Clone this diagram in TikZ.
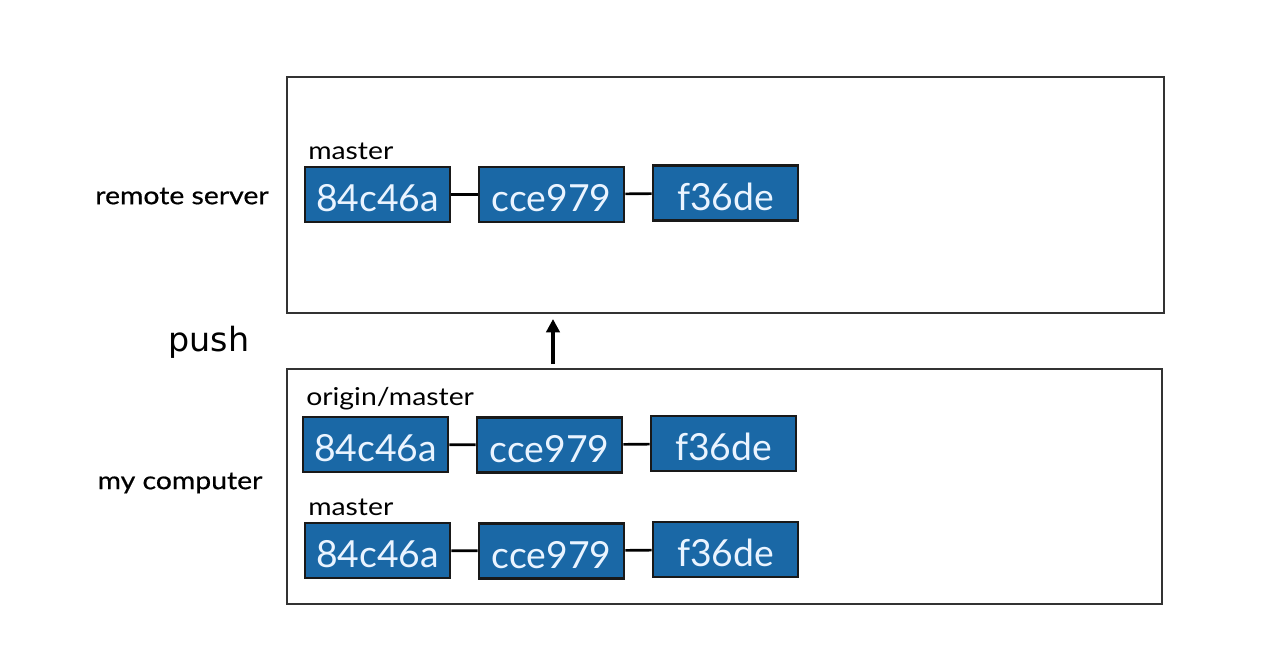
\documentclass[tikz,border=0pt]{standalone}
\usepackage{fontspec}
\setmainfont{Lato}
\newfontfamily\labelfont[FakeStretch=1.15,FakeBold=0.6]{Lato}
\newfontfamily\branchfont[FakeStretch=1.15]{Lato}
\newfontfamily\pushfont{DejaVu Sans}
\usetikzlibrary{arrows.meta}
\definecolor{commitblue}{HTML}{1A68A6}
\definecolor{committext}{HTML}{EAF4FF}
\begin{document}
\begin{tikzpicture}[x=0.75pt,y=-0.75pt,
  area/.style={draw=black!80,line width=1.3pt},
  commit/.style={draw=black!90,line width=2pt,fill=commitblue,text=committext,
    minimum width=108.75pt,minimum height=41.25pt,inner sep=0pt,
    text height=25.5pt,text depth=0pt,
    font=\fontsize{28}{28}\selectfont},
  link/.style={black,line width=2pt},
  branch/.style={anchor=west,inner sep=0pt,font=\branchfont\fontsize{18.5}{19}\selectfont},
  side/.style={inner sep=0pt,font=\labelfont\fontsize{18.5}{19}\selectfont},
  pushlbl/.style={inner sep=0pt,font=\pushfont\fontsize{25}{26}\selectfont}]
  \useasboundingbox (0,0) rectangle (1267,668);

  % server and local areas
  \draw[area] (287,77) rectangle (1164,313);
  \draw[area] (287,369) rectangle (1162,604);
  \node[side] (srv) at (182,196) {remote server};
  \node[side] (pc) at (180,483) {my computer};

  % remote master
  \node[branch] (rm) at (308,151) {master};
  \node[commit] (r1) at (377.5,194.5) {84c46a};
  \node[commit] (r2) at (551.5,194.5) {cce979};
  \node[commit] (r3) at (725.5,193) {f36de};
  \draw[link] (r1) -- (r2);
  \draw[link] (r2) -- (r3);

  % local origin/master
  \node[branch] (om) at (306,399) {origin/master};
  \node[commit] (o1) at (375.5,444.5) {84c46a};
  \node[commit] (o2) at (549.5,445) {cce979};
  \node[commit] (o3) at (723.5,443.5) {f36de};
  \draw[link] (o1) -- (o2);
  \draw[link] (o2) -- (o3);

  % local master
  \node[branch] (lm) at (308,507) {master};
  \node[commit] (l1) at (377.5,550.5) {84c46a};
  \node[commit] (l2) at (551.5,551) {cce979};
  \node[commit] (l3) at (725.5,549.5) {f36de};
  \draw[link] (l1) -- (l2);
  \draw[link] (l2) -- (l3);

  % push arrow
  \node[pushlbl] (push) at (209,342) {push};
  \coordinate (pfrom) at (553,364);
  \coordinate (pto) at (553,319);
  \draw[line width=2.4pt,-{Triangle[length=10pt,width=10pt]}] (pfrom) -- (pto);
\end{tikzpicture}
\end{document}
